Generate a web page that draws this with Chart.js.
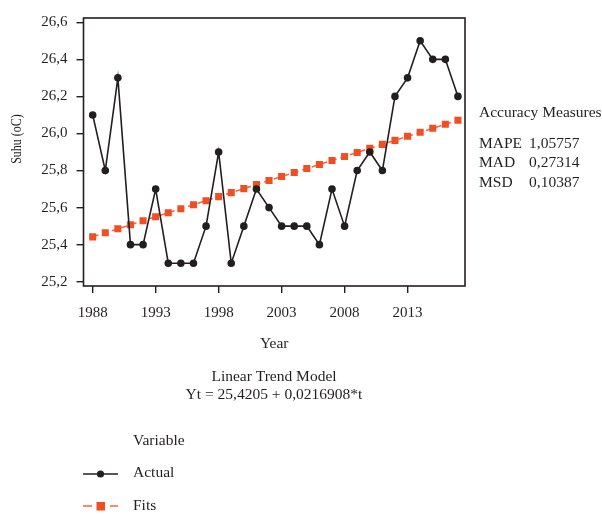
<!DOCTYPE html>
<html>
<head>
<meta charset="utf-8">
<script src="https://cdn.jsdelivr.net/npm/chart.js@4"></script>
<style>
html,body{margin:0;padding:0;background:#fff;}
#wrap{position:relative;width:602px;height:515px;}
canvas{display:block;}
</style>
</head>
<body>
<div id="wrap"><canvas id="c" width="602" height="515"></canvas></div>
<script>
const years = [1988,1989,1990,1991,1992,1993,1994,1995,1996,1997,1998,1999,2000,2001,2002,2003,2004,2005,2006,2007,2008,2009,2010,2011,2012,2013,2014,2015,2016,2017];
const actual = [26.1,25.8,26.3,25.4,25.4,25.7,25.3,25.3,25.3,25.5,25.9,25.3,25.5,25.7,25.6,25.5,25.5,25.5,25.4,25.7,25.5,25.8,25.9,25.8,26.2,26.3,26.5,26.4,26.4,26.2];
const fits = [25.4422,25.4639,25.4856,25.5073,25.5290,25.5506,25.5723,25.5940,25.6157,25.6374,25.6591,25.6808,25.7025,25.7242,25.7459,25.7676,25.7892,25.8109,25.8326,25.8543,25.8760,25.8977,25.9194,25.9411,25.9628,25.9845,26.0062,26.0278,26.0495,26.0712];
const xTicks = [1988,1993,1998,2003,2008,2013];
const yTicks = [25.2,25.4,25.6,25.8,26.0,26.2,26.4,26.6];
const accuracyLabels = ['MAPE','MAD','MSD'];
const accuracyValues = ['1,05757','0,27314','0,10387'];
const modelTitle = 'Linear Trend Model';
const modelEquation = 'Yt = 25,4205 + 0,0216908*t';
const yTitle = 'Suhu (oC)';

const FONT = '"Liberation Serif", "DejaVu Serif", serif';
const INK = '#231f20';
const ORANGE = '#f04e23';

const fmt = v => v.toFixed(1).replace('.', ',');

const extras = {
  id: 'extras',
  afterDraw(chart) {
    const ctx = chart.ctx;
    const a = chart.chartArea;
    ctx.save();
    // frame
    ctx.strokeStyle = INK;
    ctx.lineWidth = 1.6;
    ctx.strokeRect(a.left, a.top, a.right - a.left, a.bottom - a.top);
    ctx.fillStyle = INK;
    ctx.textBaseline = 'middle';
    // y title
    ctx.save();
    ctx.translate(17, 139);
    ctx.rotate(-Math.PI / 2);
    ctx.scale(0.8, 1);
    ctx.textAlign = 'center';
    ctx.font = '15px ' + FONT;
    ctx.fillText(yTitle, 0, 0);
    ctx.restore();
    ctx.font = '15.5px ' + FONT;
    // accuracy measures
    ctx.textAlign = 'left';
    ctx.fillText('Accuracy Measures', 479, 113);
    accuracyLabels.forEach((l, i) => {
      ctx.fillText(l, 479, 143.5 + i * 19.5);
      ctx.fillText(accuracyValues[i], 529, 143.5 + i * 19.5);
    });
    // model text
    ctx.textAlign = 'center';
    ctx.fillText(modelTitle, 274, 377);
    ctx.fillText(modelEquation, 274, 395);
    // legend
    ctx.textAlign = 'left';
    ctx.fillText('Variable', 133, 441);
    const ds = chart.data.datasets;
    // Actual
    ctx.strokeStyle = ds[0].borderColor;
    ctx.lineWidth = 1.6;
    ctx.beginPath(); ctx.moveTo(83, 474); ctx.lineTo(118, 474); ctx.stroke();
    ctx.fillStyle = ds[0].pointBackgroundColor;
    ctx.beginPath(); ctx.arc(100.5, 474, 3.6, 0, Math.PI * 2); ctx.fill();
    ctx.fillStyle = INK;
    ctx.fillText(ds[0].label, 133, 473);
    // Fits
    ctx.strokeStyle = ds[1].borderColor;
    ctx.lineWidth = 1.6;
    ctx.beginPath(); ctx.moveTo(83, 506); ctx.lineTo(92, 506); ctx.moveTo(110, 506); ctx.lineTo(118, 506); ctx.stroke();
    ctx.fillStyle = ds[1].pointBackgroundColor;
    ctx.fillRect(96.5, 502, 8.5, 8.5);
    ctx.fillStyle = INK;
    ctx.fillText(ds[1].label, 133, 506);
    ctx.restore();
  }
};

new Chart(document.getElementById('c'), {
  type: 'line',
  data: {
    datasets: [
      {
        label: 'Actual',
        data: years.map((y, i) => ({x: y, y: actual[i]})),
        borderColor: INK,
        borderWidth: 1.6,
        pointBackgroundColor: INK,
        pointBorderColor: INK,
        pointRadius: 3,
        pointStyle: 'circle',
        tension: 0,
        order: 1
      },
      {
        label: 'Fits',
        data: years.map((y, i) => ({x: y, y: fits[i]})),
        borderColor: '#f26a45',
        borderWidth: 1.6,
        borderDash: [6, 4],
        pointBackgroundColor: ORANGE,
        pointBorderColor: ORANGE,
        pointBorderWidth: 0,
        pointRadius: 5,
        pointStyle: 'rect',
        tension: 0,
        order: 2
      }
    ]
  },
  options: {
    responsive: false,
    animation: false,
    events: [],
    layout: {padding: {left: 0, top: 10.5, right: 137, bottom: 162}},
    plugins: {legend: {display: false}, tooltip: {enabled: false}},
    scales: {
      x: {
        type: 'linear',
        min: 1987.27,
        max: 2017.56,
        afterBuildTicks: s => { s.ticks = xTicks.map(v => ({value: v})); },
        afterFit: s => { s.height = 67; },
        border: {display: false},
        grid: {drawOnChartArea: false, drawTicks: true, tickLength: 7, color: INK, lineWidth: 1.4},
        ticks: {color: INK, font: {family: FONT, size: 15}, padding: 11, maxRotation: 0, callback: v => String(v)},
        title: {display: true, text: 'Year', color: INK, font: {family: FONT, size: 15.5}, padding: {top: 21, bottom: 0}}
      },
      y: {
        min: 25.177,
        max: 26.623,
        afterBuildTicks: s => { s.ticks = yTicks.map(v => ({value: v})); },
        afterFit: s => { s.width = 83.5; },
        border: {display: false},
        grid: {drawOnChartArea: false, drawTicks: true, tickLength: 7, color: INK, lineWidth: 1.4},
        ticks: {color: INK, font: {family: FONT, size: 15}, padding: 9, callback: v => fmt(v)}
      }
    }
  },
  plugins: [extras]
});
</script>
</body>
</html>
